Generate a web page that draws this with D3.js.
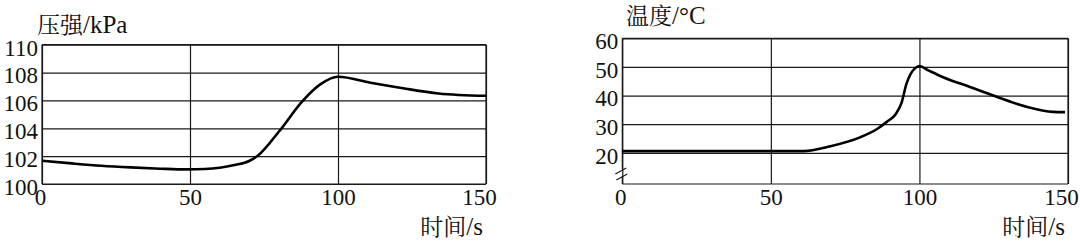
<!DOCTYPE html>
<html>
<head>
<meta charset="utf-8">
<script src="https://cdn.jsdelivr.net/npm/d3@7/dist/d3.min.js"></script>
<style>
  body { margin: 0; background: #fff; }
  svg { display: block; }
</style>
</head>
<body>
<div id="chart"></div>
<script>
// pressure curve (kPa) vs time (s)
var pTime  = [0, 10, 20, 30, 40, 49, 55, 60, 65, 70, 73, 80, 88, 94, 100, 111, 122, 134, 150];
var pValue = [101.67, 101.48, 101.31, 101.19, 101.1, 101.05, 101.08, 101.17, 101.36, 101.65, 102.05, 103.75, 105.95, 107.15, 107.7, 107.27, 106.87, 106.5, 106.33];
var pTicks = [100, 102, 104, 106, 108, 110];

// temperature curve (°C) vs time (s)
var tTime  = [0, 61, 70, 80, 86, 89, 92, 94, 95.6, 97, 98.5, 100, 103, 108, 117, 126, 136, 145, 149];
var tValue = [20.6, 20.6, 22.3, 25.4, 28.5, 30.8, 33.5, 37.5, 44, 47.5, 49.5, 50.3, 48.8, 46.4, 43, 39.6, 36.1, 34.3, 34.2];
var tTicks = [20, 30, 40, 50, 60];

var xTicks = [0, 50, 100, 150];

var W = 1080, H = 242;
var LAT = "Liberation Serif", CJK = "Noto Serif CJK SC";

var svg = d3.select("#chart").append("svg").attr("width", W).attr("height", H);

// mixed label: CJK part + latin part as separate tspans
function label(sel, cjk, lat) {
  sel.attr("fill", "#111");
  sel.append("tspan").style("font-family", CJK).style("font-size", "23px").text(cjk);
  sel.append("tspan").style("font-family", LAT).style("font-size", "25px").text(lat);
}

function panel(opt) {
  var x = d3.scaleLinear().domain([0, 150]).range([opt.left, opt.right]);
  var y = d3.scaleLinear().domain(opt.yDomain).range([opt.bottom, opt.top]);
  var g = svg.append("g");

  // horizontal grid + y labels
  var ya = g.append("g").attr("transform", "translate(" + opt.left + ",0)")
    .call(d3.axisLeft(y).tickValues(opt.yTicks).tickSize(-(opt.right - opt.left)).tickPadding(4));
  ya.select(".domain").remove();
  ya.selectAll("line").attr("stroke", "#1a1a1a").attr("stroke-width", 1.2);
  ya.selectAll("text").attr("dy", "0.45em").attr("fill", "#111")
    .style("font-family", LAT).style("font-size", "23px");

  // vertical grid + x labels
  var xa = g.append("g").attr("transform", "translate(0," + opt.bottom + ")")
    .call(d3.axisBottom(x).tickValues(xTicks).tickSize(-(opt.bottom - opt.top)).tickPadding(5));
  xa.select(".domain").remove();
  xa.selectAll("line").attr("stroke", "#1a1a1a").attr("stroke-width", 1.2);
  xa.selectAll("text").attr("fill", "#111")
    .style("font-family", LAT).style("font-size", "23px")
    .attr("dx", function (d) { return d === 150 ? -7 : (d === 0 ? -2 : 0); });

  // frame
  var fr = g.append("g").attr("stroke", "#1a1a1a").attr("stroke-width", 1.2).attr("fill", "none");
  fr.append("line").attr("x1", opt.left).attr("x2", opt.right).attr("y1", opt.top).attr("y2", opt.top);
  fr.append("line").attr("x1", opt.left).attr("x2", opt.right).attr("y1", opt.bottom).attr("y2", opt.bottom);
  fr.append("line").attr("x1", opt.right).attr("x2", opt.right).attr("y1", opt.top).attr("y2", opt.bottom);
  if (opt.broken) {
    fr.append("line").attr("x1", opt.left).attr("x2", opt.left).attr("y1", opt.top).attr("y2", opt.bottom - 15);
    fr.append("line").attr("x1", opt.left).attr("x2", opt.left).attr("y1", opt.bottom - 8).attr("y2", opt.bottom);
    fr.append("line").attr("x1", opt.left - 7).attr("x2", opt.left + 4).attr("y1", opt.bottom - 10).attr("y2", opt.bottom - 16);
    fr.append("line").attr("x1", opt.left - 6).attr("x2", opt.left + 5).attr("y1", opt.bottom - 4).attr("y2", opt.bottom - 10);
  } else {
    fr.append("line").attr("x1", opt.left).attr("x2", opt.left).attr("y1", opt.top).attr("y2", opt.bottom);
  }

  // data line
  var line = d3.line()
    .x(function (d, i) { return x(opt.xs[i]); })
    .y(function (d) { return y(d); })
    .curve(d3.curveMonotoneX);
  g.append("path").datum(opt.ys)
    .attr("d", line)
    .attr("fill", "none")
    .attr("stroke", "#000")
    .attr("stroke-width", 2.6)
    .attr("stroke-linejoin", "round");

  // titles
  g.append("text").attr("x", opt.titleX).attr("y", opt.titleY)
    .call(label, opt.titleCjk, opt.titleLat);
  g.append("text").attr("x", opt.right - 3).attr("y", 235).attr("text-anchor", "end")
    .call(label, "时间", "/s");
}

panel({
  left: 42, right: 486, top: 44.7, bottom: 184,
  yDomain: [100, 110], yTicks: pTicks,
  xs: pTime, ys: pValue,
  titleCjk: "压强", titleLat: "/kPa", titleX: 37, titleY: 33
});

panel({
  left: 622.3, right: 1068, top: 38.3, bottom: 184,
  yDomain: [9.1, 60], yTicks: tTicks, broken: true,
  xs: tTime, ys: tValue,
  titleCjk: "温度", titleLat: "/°C", titleX: 626, titleY: 24
});
</script>
</body>
</html>
